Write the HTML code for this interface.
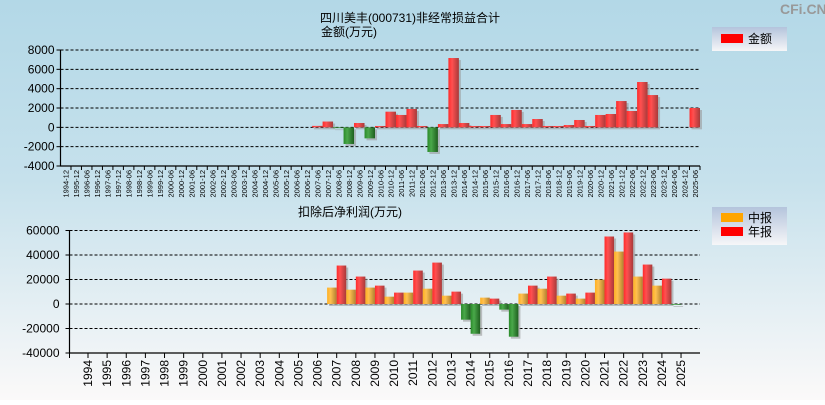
<!DOCTYPE html>
<html><head><meta charset="utf-8"><style>
body{margin:0;width:825px;height:400px;overflow:hidden;font-family:"Liberation Sans","Noto Sans CJK SC",sans-serif}
svg text{font-family:"Liberation Sans","Noto Sans CJK SC",sans-serif}
</style></head><body>
<svg id="c" width="825" height="400" xmlns="http://www.w3.org/2000/svg">
<defs>
<linearGradient id="bg" x1="0" y1="0" x2="0" y2="1"><stop offset="0" stop-color="#b3d8e7"/><stop offset="0.45" stop-color="#c6e1ec"/><stop offset="1" stop-color="#fbf9f9"/></linearGradient>
<linearGradient id="gr" x1="0" x2="1"><stop offset="0" stop-color="#ff2a2a"/><stop offset="0.35" stop-color="#ff5050"/><stop offset="1" stop-color="#a83a3a"/></linearGradient>
<linearGradient id="gg" x1="0" x2="1"><stop offset="0" stop-color="#2a8a2a"/><stop offset="0.35" stop-color="#4aa84a"/><stop offset="1" stop-color="#1f5f1f"/></linearGradient>
<linearGradient id="go" x1="0" x2="1"><stop offset="0" stop-color="#ffb020"/><stop offset="0.35" stop-color="#ffc050"/><stop offset="1" stop-color="#b08030"/></linearGradient>
<linearGradient id="lg" x1="0" y1="0" x2="0" y2="1"><stop offset="0" stop-color="#b4c4dc"/><stop offset="1" stop-color="#f6f6f8"/></linearGradient>
</defs>
<rect width="825" height="400" fill="url(#bg)"/>
<text x="780" y="14" font-size="14" fill="#999" font-weight="bold">CFi.CN</text>
<text x="410" y="22" font-size="12" text-anchor="middle">四川美丰(000731)非经常损益合计</text>
<text x="349" y="36" font-size="12" text-anchor="middle">金额(万元)</text>
<text x="350" y="216" font-size="12" text-anchor="middle">扣除后净利润(万元)</text>
<g>
<rect x="712" y="27" width="75" height="24" fill="url(#lg)"/>
<rect x="721" y="34" width="22" height="9" fill="#f00"/>
<text x="748" y="43" font-size="12">金额</text>
</g>
<g>
<rect x="712" y="207" width="75" height="38" fill="url(#lg)"/>
<rect x="721" y="213" width="22" height="9" fill="#ffa500"/>
<text x="748" y="222" font-size="12">中报</text>
<rect x="721" y="227" width="22" height="9" fill="#f00"/>
<text x="748" y="236" font-size="12">年报</text>
</g>
<g id="top"></g><g id="bot"></g>
</svg>
<script>
const topCats=["1994-12","1995-12"];
for(let y=1996;y<=2025;y++){topCats.push(y+"-06");if(y<2025)topCats.push(y+"-12");}
const topTicks=[8000,6000,4000,2000,0,-2000,-4000];
const topValues={"2007-06":150,"2007-12":600,"2008-06":-50,"2008-12":-1720,"2009-06":450,"2009-12":-1140,"2010-06":140,"2010-12":1620,"2011-06":1280,"2011-12":1900,"2012-06":140,"2012-12":-2550,"2013-06":340,"2013-12":7170,"2014-06":450,"2014-12":140,"2015-06":140,"2015-12":1280,"2016-06":340,"2016-12":1800,"2017-06":340,"2017-12":860,"2018-06":140,"2018-12":140,"2019-06":240,"2019-12":760,"2020-06":140,"2020-12":1280,"2021-06":1380,"2021-12":2720,"2022-06":1690,"2022-12":4690,"2023-06":3340,"2025-06":2000};
const botYears=[];for(let y=1994;y<=2025;y++)botYears.push(String(y));
const botTicks=[60000,40000,20000,0,-20000,-40000];
const interim={"2007":13400,"2008":11700,"2009":13400,"2010":6000,"2011":9300,"2012":12500,"2013":6800,"2014":-12800,"2015":5200,"2016":-4600,"2017":8500,"2018":12500,"2019":6800,"2020":4400,"2021":19900,"2022":42800,"2023":22400,"2024":15000,"2025":-500};
const annual={"2007":31400,"2008":22400,"2009":15000,"2010":9300,"2011":27300,"2012":33800,"2013":10100,"2014":-24300,"2015":4400,"2016":-26700,"2017":15000,"2018":22400,"2019":8500,"2020":9300,"2021":55100,"2022":58400,"2023":32200,"2024":20700};
const NS="http://www.w3.org/2000/svg";
function mk(p,t,a){const e=document.createElementNS(NS,t);for(const k in a)e.setAttribute(k,a[k]);p.appendChild(e);return e;}
function bar(g,x,w,y0,y1,fill,name){
 const top=Math.min(y0,y1),h=Math.max(Math.abs(y1-y0),0.8);
 const s=mk(g,"rect",{x:x+2,y:top+2,width:w,height:h,fill:"#999","fill-opacity":"0.6"});
 
 
 const r=mk(g,"rect",{x:x,y:top,width:w,height:h,fill:fill});
 
 
}
// top chart
(function(){
 const g=document.getElementById("top");
 const L=60.5,R=700,yT=50,yB=166,vMax=8000,vMin=-4000;
 const ys=v=>yT+(vMax-v)/(vMax-vMin)*(yB-yT);
 const cw=(R-L)/topCats.length;
 const xs=i=>L+i*cw;
 topTicks.forEach(t=>{
  const y=ys(t);
  if(t!==vMin){const l=mk(g,"line",{x1:L,x2:R,y1:y,y2:y,stroke:"#000","stroke-dasharray":"3,2","stroke-width":1});
  
  }
  mk(g,"line",{x1:L-4,x2:L,y1:y,y2:y,stroke:"#000"});
  const tx=mk(g,"text",{x:L-6,y:y+4,"font-size":12,"text-anchor":"end"});tx.textContent=t;
  
  
 });
 const z=ys(0);
 topCats.forEach((c,i)=>{
  const v=topValues[c];
  if(v!==undefined) bar(g,xs(i),cw,z,ys(v),v>=0?"url(#gr)":"url(#gg)","bar-"+c);
 });
 const ax=mk(g,"path",{d:`M${L} ${yT}V${yB}H${R}`,stroke:"#000",fill:"none","stroke-width":1.2});
 
 
 topCats.forEach((c,i)=>{
  const x=xs(i)+cw/2;
  mk(g,"line",{x1:xs(i+1),x2:xs(i+1),y1:yB,y2:yB+4,stroke:"#000"});
  const t=mk(g,"text",{x:0,y:0,"font-size":7.5,transform:`translate(${x+3},${yB+4}) rotate(-90)`,"text-anchor":"end"});
  t.textContent=c;
  
  
 });
})();
// bottom chart
(function(){
 const g=document.getElementById("bot");
 const L=69.5,R=700,yT=230.5,yB=353,vMax=60000,vMin=-40000;
 const ys=v=>yT+(vMax-v)/(vMax-vMin)*(yB-yT);
 const cw=19.13,c0=88;
 const cx=i=>c0+i*cw;
 botTicks.forEach(t=>{
  const y=ys(t);
  if(t!==vMin){const l=mk(g,"line",{x1:L,x2:R,y1:y,y2:y,stroke:"#000","stroke-dasharray":"3,2","stroke-width":1});
  
  }
  mk(g,"line",{x1:L-4,x2:L,y1:y,y2:y,stroke:"#000"});
  const tx=mk(g,"text",{x:L-10,y:y+4,"font-size":12,"text-anchor":"end"});tx.textContent=t;
  
  
 });
 const z=ys(0),bw=cw/2;
 botYears.forEach((yr,i)=>{
  const a=interim[yr],b=annual[yr];
  if(a!==undefined) bar(g,cx(i)-bw,bw,z,ys(a),a>=0?"url(#go)":"url(#gg)","bar-interim-"+yr);
  if(b!==undefined) bar(g,cx(i),bw,z,ys(b),b>=0?"url(#gr)":"url(#gg)","bar-annual-"+yr);
 });
 const ax=mk(g,"path",{d:`M${L} ${yT}V${yB}H${R}`,stroke:"#000",fill:"none","stroke-width":1.2});
 
 
 mk(g,"line",{x1:L,x2:L,y1:yB,y2:yB+5,stroke:"#000"});
 botYears.forEach((yr,i)=>{
  const x=cx(i);
  mk(g,"line",{x1:x,x2:x,y1:yB,y2:yB+5,stroke:"#000"});
  const t=mk(g,"text",{x:0,y:0,"font-size":12,transform:`translate(${x+4},${yB+7}) rotate(-90)`,"text-anchor":"end"});
  t.textContent=yr;
  
  
 });
})();
</script>
</body></html>
